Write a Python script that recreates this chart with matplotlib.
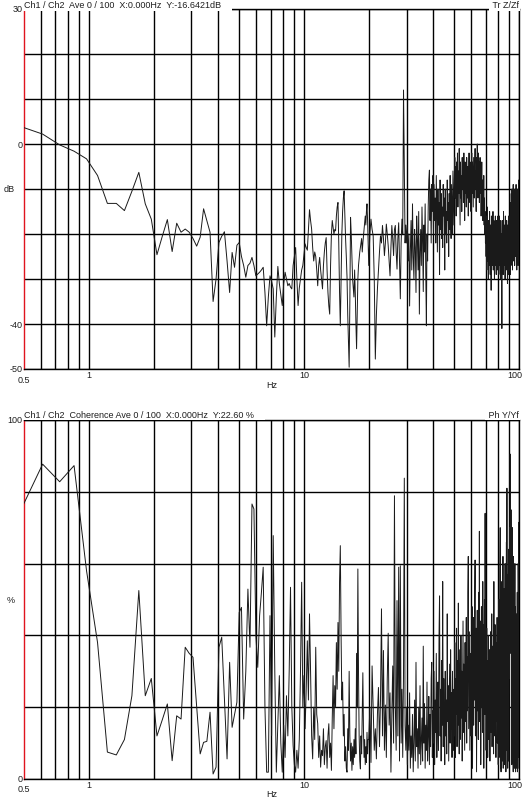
import numpy as np
import matplotlib.pyplot as plt
from matplotlib.ticker import FixedLocator, NullLocator

plt.rcParams['font.family'] = ['Liberation Sans', 'DejaVu Sans']

# frequency bins (df = 1000/8192 Hz), every bin up to 20 Hz, every 2nd above
df = 1000 / 8192
bins = np.r_[np.arange(4, 164), np.arange(164, 820, 2)]
freq = bins * df

# Ch1/Ch2 magnitude, dB
mag_db = [
    3.8, 2.2, -0.2, -1.6, -3.3, -7.0, -13.2, -13.2, -14.8, -10.5,
    -6.3, -13.3, -16.7, -24.6, -20.5, -16.8, -23.9, -17.6, -19.6, -18.9,
    -19.6, -21.0, -22.7, -20.7, -14.4, -17.0, -19.6, -35.0, -30.0, -21.9,
    -20.5, -19.5, -26.0, -33.0, -24.1, -27.4, -22.5, -21.9, -25.0, -27.0,
    -29.6, -27.0, -26.5, -25.2, -27.0, -29.3, -28.9, -28.5, -28.0, -27.4,
    -33.0, -40.4, -34.0, -29.3, -30.5, -32.2, -42.9, -34.0, -27.2, -31.0,
    -33.5, -35.9, -31.0, -28.5, -30.0, -31.5, -31.0, -31.8, -32.2, -27.0,
    -25.0, -23.0, -30.0, -35.9, -32.0, -30.0, -28.0, -27.0, -24.5, -22.2,
    -23.0, -23.6, -19.0, -14.6, -17.0, -18.9, -23.0, -26.0, -24.0, -25.0,
    -28.0, -31.5, -27.0, -25.2, -28.0, -30.0, -32.2, -27.0, -24.0, -22.0,
    -20.8, -28.0, -33.0, -36.0, -37.8, -27.0, -20.0, -17.0, -18.5, -20.0,
    -19.0, -19.3, -16.0, -14.0, -13.0, -22.0, -33.0, -40.4, -30.0, -20.0,
    -15.0, -12.0, -10.4, -16.0, -21.0, -25.0, -29.6, -38.0, -44.0, -49.6,
    -35.0, -16.3, -20.0, -25.0, -30.0, -32.0, -34.0, -28.0, -33.0, -40.0,
    -45.5, -38.0, -30.0, -27.0, -25.5, -24.0, -23.0, -22.0, -21.0, -24.0,
    -22.0, -20.4, -19.0, -17.5, -16.0, -18.0, -15.0, -13.3, -17.0, -22.0,
    # 20-30 Hz
    -27.0, -20.0, -16.7, -19.0, -20.4, -30.0, -47.8, -38.0, -32.2, -28.0,
    -24.0, -20.4, -22.0, -18.1, -21.0, -24.8, -22.0, -17.8, -20.0, -22.6,
    -26.0, -29.3, -23.0, -18.1, -21.0, -24.8, -19.0, -18.1, -24.0, -27.8,
    -21.0, -17.5, -26.0, -34.4, -22.0, -16.7, -20.0, 12.0, -4.0, -22.0,
    -18.0,
    # 30-40 Hz
    -22, -18, -26, -20, -36, -24, -17, -28, -13.3, -25,
    -30, -19, -23, -33, -16, -21, -28, -15, -37.8, -24,
    -19, -27, -14, -22, -32.8, -18, -24, -13.3, -29, -40.4,
    -20, -26, -14, -8, -5.8, -17, -10, -22, -9, -15,
    -7,
    # 40-50 Hz
    -20, -9, -17, -12, -22, -7, -15, -24, -10, -18,
    -13, -29, -8, -19, -11, -21, -14, -23, -9, -16,
    -12, -28, -10, -20, -15, -22, -8, -17, -13, -25,
    -11, -19, -7, -16, -21, -9, -14, -20, -6, -12,
    -18,
    # 50-60 Hz
    -8, -3, -12, -5, -16, -4, -10, -2, -14, -6,
    -11, -1, -9, -18, -4, -12, -7, -15, -3, -10,
    -5, -13, -2, -8, -17, -4, -11, -6, -14, -3,
    -9, -12, -5, -16, -7, -2, -10, -13, -4, -8,
    -15,
    # 60-70 Hz
    -6, -2, -11, -4, -9, -14, -3, -7, -12, -5,
    -1, -10, -6, -15, -3, -8, 0, -5, -12, -2,
    -9, -4, -13, -7, -3, -11, -6, -16, -9, -4,
    -12, -8, -17, -10, -14, -7, -18, -12, -20, -15,
    -22,
    # 70-80 Hz
    -18, -25, -16, -28, -20, -14, -26, -19, -30, -17,
    -23, -27, -15, -21, -29, -18, -24, -32.5, -16, -22,
    -27, -19, -25, -15, -28, -21, -17, -26, -30, -18,
    -23, -16, -27, -20, -29, -17, -24, -19, -28, -22,
    -16,
    # 80-90 Hz
    -25, -18, -29, -21, -16, -27, -23, -19, -30, -17,
    -24, -20, -28, -41, -22, -17, -26, -19, -29, -15,
    -23, -27, -18, -25, -21, -30, -16, -24, -19, -28,
    -22, -17, -26, -20, -31, -18, -24, -29, -16, -22,
    -27,
    # 90-100 Hz
    -21, -28, -16, -24, -29, -13, -22, -27, -11, -19,
    -25, -10, -18, -28, -12, -21, -9, -26, -15, -11,
    -23, -14, -27, -10, -19, -12, -25, -16, -9, -22,
    -13, -28, -11, -17, -24, -10, -20, -27, -12, -8,
    -18,
]

# Ch1/Ch2 coherence, %
coh_pct = [
    75.5, 87.7, 82.8, 87.3, 58, 38, 7.5, 6.7, 11, 23.2,
    52.5, 23.2, 28, 12, 16.5, 20.9, 5.1, 17.6, 16.7, 36.7,
    35, 33.9, 20, 7, 10.2, 10.5, 18.6, 1.4, 3.3, 36.7,
    39.5, 22, 5.6, 32.5, 14.4, 18, 21.4, 46.4, 47.8, 16.7,
    30, 52.9, 36.7, 76.6, 75.2, 40, 31.1, 45.5, 52, 59,
    20, 1.9, 1.9, 45.5, 12.1, 67.8, 30, 1.9, 15, 28.8,
    10, 1.9, 15, 6, 23.2, 12, 30, 53.4, 20, 9.3,
    4, 1.9, 8, 3, 11, 30, 54.8, 20, 28.8, 14,
    25, 38.5, 22, 46, 30, 12, 5.6, 20, 11, 36.7,
    18, 15.4, 6, 12, 3.3, 8, 6.5, 14, 4, 9,
    10.7, 3, 12, 15.4, 6, 10, 2.4, 17, 28.8, 14,
    26, 20, 38, 25, 43.6, 30, 55, 65, 40, 22,
    27, 12, 18, 5, 9, 3, 1.9, 14, 8, 30,
    12, 5, 10, 2.4, 9, 4, 11, 6, 14, 7,
    35, 20, 58.5, 30, 12, 5, 2.8, 12, 7, 18,
    29.6, 14, 6, 11, 4, 9, 4.6, 13, 7, 11,
    # 20-30 Hz
    11, 20, 4.6, 31.5, 19.5, 8, 14, 5.6, 18, 25.5,
    9, 22, 47.4, 12, 35.8, 8, 20.6, 6, 28, 40.6,
    15, 24, 1.9, 18, 31.5, 10, 78.9, 20, 8, 49.7,
    12, 59, 5, 59.4, 10, 25, 6, 30, 83.8, 15,
    8,
    # 30-40 Hz
    20, 4, 15, 8, 24, 3, 12, 6, 18, 2,
    10, 22, 5, 32.5, 9, 14, 3, 20, 7, 26,
    4, 11, 17, 5, 37, 10, 21, 3, 15, 8,
    27, 5, 12, 23, 4, 18, 9, 28, 32.5, 6,
    19,
    # 40-50 Hz
    10, 30, 4, 22, 13, 35, 6, 18, 27, 8,
    40, 51, 12, 25, 5, 33, 15, 55, 9, 28,
    18, 4, 30, 12, 22, 7, 46, 16, 26, 5,
    20, 32, 10, 36, 14, 24, 6, 30, 17, 8,
    25,
    # 50-60 Hz
    12, 38, 6, 28, 18, 42, 9, 33, 15, 49,
    20, 7, 36, 24, 11, 40, 17, 30, 5, 26,
    44, 13, 32, 21, 8, 38, 16, 27, 45, 10,
    34, 19, 52, 62, 14, 29, 41, 8, 23, 35,
    12,
    # 60-70 Hz
    40, 18, 48, 3, 30, 45, 15, 36, 22, 50,
    61, 12, 33, 42, 2, 28, 47, 19, 38, 11,
    52, 25, 69, 16, 35, 44, 4, 30, 48, 20,
    39, 13, 55, 27, 43, 3, 33, 50, 18, 74,
    24,
    # 70-80 Hz
    38, 8, 29, 42, 14, 33, 6, 25, 40, 11,
    30, 18, 36, 5, 27, 41, 13, 32, 20, 46,
    9, 24, 37, 15, 29, 7, 55, 21, 34, 12,
    43, 19, 28, 6, 38, 16, 31, 45, 10, 26,
    40,
    # 80-90 Hz
    4, 35, 50, 6, 42, 25, 58, 70, 3, 38,
    2, 47, 30, 55, 5, 40, 26, 62, 3, 35,
    48, 22, 53, 4, 37, 60, 28, 44, 2, 50,
    66, 32, 81, 8, 45, 3, 57, 36, 64, 5,
    42,
    # 90-100 Hz
    55, 28, 70, 40, 90.5, 62, 35, 75, 48, 66,
    4, 58, 38, 70, 6, 52, 2, 62, 44, 7,
    55, 3, 40, 60, 5, 48, 2, 35, 46, 4,
    42, 3, 30, 52, 2, 38, 6, 60, 45, 71.5,
    3,
]

x_grid = [0.6, 0.7, 0.8, 0.9, 1, 2, 3, 4, 5, 6, 7, 8, 9,
          10, 20, 30, 40, 50, 60, 70, 80, 90, 100]
x_labels = [(1, '1'), (10, '10'), (100, '100')]

TXT = '#1e1e1e'
FS = 6.5
PX = 0.72  # points per pixel at dpi 100


def panel(ax, values, ylim, ystep, ylabels, unit, title, tag, title_dy, lab_dy):
    ax.plot(freq, values, color='#1a1a1a', lw=0.7, zorder=3)
    ax.set_xscale('log')
    ax.set_xlim(0.5, 100)
    ax.set_ylim(*ylim)
    ax.xaxis.set_major_locator(FixedLocator(x_grid))
    ax.xaxis.set_minor_locator(NullLocator())
    ax.set_yticks(np.arange(ylim[0], ylim[1] + ystep, ystep))
    ax.tick_params(which='both', length=0, labelbottom=False, labelleft=False)
    ax.grid(True, color='black', lw=1.0)
    for s in ('top', 'right', 'bottom'):
        ax.spines[s].set_color('black')
        ax.spines[s].set_linewidth(1.0)
    ax.spines['left'].set_color('#e0141e')
    ax.spines['left'].set_linewidth(1.0)

    kw = dict(textcoords='offset points', fontsize=FS, color=TXT,
              annotation_clip=False)
    for v in ylabels:
        ax.annotate(str(v), xy=(0, v), xycoords=('axes fraction', 'data'),
                    xytext=(-1.5 * PX, 0), ha='right', va='center', **kw)
    ax.annotate(unit, xy=(0, 0.5), xycoords='axes fraction',
                xytext=(-9.5 * PX, 0), ha='right', va='center', **kw)

    for xv, s in x_labels:
        dx = -4 if xv == 100 else 0
        ax.annotate(s, xy=(xv, 0), xycoords=('data', 'axes fraction'),
                    xytext=(dx * PX, -lab_dy[0] * PX), ha='center', va='center', **kw)
    ax.annotate('0.5', xy=(0.5, 0), xycoords=('data', 'axes fraction'),
                xytext=(0, -lab_dy[1] * PX), ha='center', va='center', **kw)
    ax.annotate('Hz', xy=(0.5, 0), xycoords='axes fraction',
                xytext=(0, -lab_dy[2] * PX), ha='center', va='center', **kw)

    box = dict(boxstyle='square,pad=0.12', fc='white', ec='none')
    ax.annotate(title + '    ', xy=(0, 1), xycoords='axes fraction',
                xytext=(0, title_dy * PX), ha='left', va='center',
                bbox=box, zorder=6, **kw)
    ax.annotate(' ' + tag, xy=(1, 1), xycoords='axes fraction',
                xytext=(0, title_dy * PX), ha='right', va='center',
                bbox=box, zorder=6, **kw)


fig = plt.figure(figsize=(5.27, 8.04), dpi=100)
ax1 = fig.add_axes([24 / 527, 1 - 370 / 804, 495 / 527, 360 / 804])
ax2 = fig.add_axes([24 / 527, 24 / 804, 495 / 527, 359 / 804])

panel(ax1, mag_db, (-50, 30), 10, [30, 0, -40, -50], 'dB',
      'Ch1 / Ch2  Ave 0 / 100  X:0.000Hz  Y:-16.6421dB', 'Tr Z/Zf',
      4, (5.7, 11, 16))
panel(ax2, coh_pct, (0, 100), 20, [100, 0], '%',
      'Ch1 / Ch2  Coherence Ave 0 / 100  X:0.000Hz  Y:22.60 %', 'Ph Y/Yf',
      5.5, (6, 10, 15))

fig.savefig('out.png', dpi=100)
